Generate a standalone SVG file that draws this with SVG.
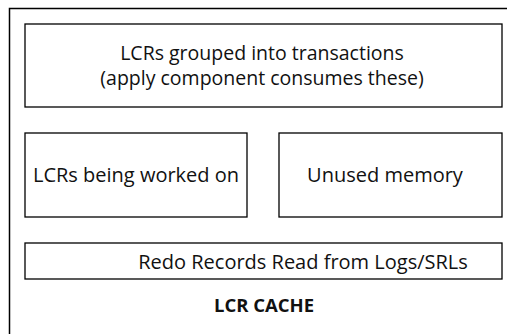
<svg xmlns="http://www.w3.org/2000/svg" width="507" height="334" viewBox="0 0 507 334">
  <style>
    .frame { fill: none; stroke: #000; stroke-width: 1.5; }
    .box { fill: #fff; stroke: #000; stroke-width: 1.3; }
    .lbl { font-family: "Open Sans", "Noto Sans", sans-serif; font-size: 20px; fill: #111; text-anchor: middle; }
    .lbl2 { font-size: 19.5px; }
    .title { font-family: "Open Sans", "Noto Sans", sans-serif; font-size: 18.5px; font-weight: bold; fill: #111; text-anchor: middle; }
  </style>
  <rect width="507" height="334" fill="#fff"/>

  <!-- LCR cache container (open to the right and bottom) -->
  <g id="lcr-cache">
    <polyline class="frame" points="9.5,334 9.5,8.5 507,8.5"/>
    <text class="title" x="264" y="312">LCR CACHE</text>
  </g>

  <g id="grouped-transactions">
    <rect class="box" x="25" y="24" width="477" height="83"/>
    <text class="lbl lbl2" x="262" y="60">LCRs grouped into transactions</text>
    <text class="lbl lbl2" x="262" y="85">(apply component consumes these)</text>
  </g>

  <g id="lcrs-in-progress">
    <rect class="box" x="25" y="133" width="222" height="84"/>
    <text class="lbl" x="136" y="182">LCRs being worked on</text>
  </g>

  <g id="unused-memory">
    <rect class="box" x="279" y="133" width="223" height="84"/>
    <text class="lbl" x="385" y="182">Unused memory</text>
  </g>

  <g id="redo-records">
    <rect class="box" x="25" y="243" width="477" height="36"/>
    <text class="lbl" x="303" y="269">Redo Records Read from Logs/SRLs</text>
  </g>

  <g id="connectors"/>
</svg>
